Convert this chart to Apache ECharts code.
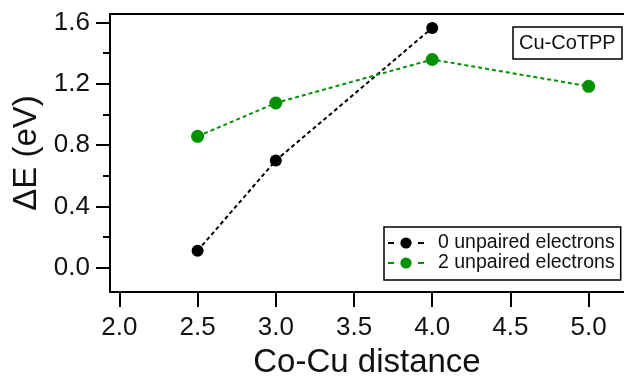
<!DOCTYPE html>
<html>
<head>
<meta charset="utf-8">
<script src="https://cdn.jsdelivr.net/npm/echarts@6/dist/echarts.min.js"></script>
<style>html,body{margin:0;padding:0;background:#fff}#c{width:624px;height:384px}</style>
</head>
<body>
<div id="c"></div>
<script>
const xValues0 = [2.5, 3.0, 4.0];
const yValues0 = [0.11, 0.70, 1.565];
const xValues2 = [2.5, 3.0, 4.0, 5.0];
const yValues2 = [0.857, 1.075, 1.359, 1.184];
const seriesNames = ['0 unpaired electrons', '2 unpaired electrons'];
const xTicks = [2.0, 2.5, 3.0, 3.5, 4.0, 4.5, 5.0];
const yTicks = [0.0, 0.4, 0.8, 1.2, 1.6];
const yMinorTicks = [0.2, 0.6, 1.0, 1.4];
const xRange = [1.94, 5.226];
const yRange = [-0.16, 1.656];
const annotation = 'Cu-CoTPP';
const xTitle = 'Co-Cu distance';
const yTitle = 'ΔE (eV)';

const FONT = '"Liberation Sans", Arial, Helvetica, sans-serif';
const GREEN = '#009000';
const chart = echarts.init(document.getElementById('c'), null, {renderer: 'canvas'});
const axLine = {show: true, onZero: false, lineStyle: {color: '#000', width: 2}};
chart.setOption({
  animation: false,
  backgroundColor: '#fff',
  title: {
    text: annotation, left: 513, top: 27,
    padding: [6, 7, 6, 6], borderColor: '#000', borderWidth: 1.5,
    textStyle: {fontFamily: FONT, fontSize: 20, fontWeight: 'normal', color: '#111', lineHeight: 20}
  },
  legend: {
    data: seriesNames, orient: 'vertical', left: 384, top: 227,
    padding: [6, 6, 7, 3], itemGap: 0, itemWidth: 36, itemHeight: 14,
    borderColor: '#000', borderWidth: 1.5,
    lineStyle: {type: [6, 9], width: 2},
    textStyle: {fontFamily: FONT, fontSize: 19.5, color: '#111', lineHeight: 20, padding: [0, 0, 0, 9]}
  },
  grid: {left: 110, right: 0, top: 14, bottom: 87},
  xAxis: [{
    type: 'value', min: xRange[0], max: xRange[1], position: 'bottom',
    name: xTitle, nameLocation: 'middle', nameGap: 51,
    nameTextStyle: {fontFamily: FONT, fontSize: 33, color: '#111', lineHeight: 33},
    axisLine: axLine, splitLine: {show: false},
    axisTick: {show: true, length: 15, customValues: xTicks, lineStyle: {color: '#000', width: 2}},
    axisLabel: {customValues: xTicks, margin: 23, fontFamily: FONT, fontSize: 26, color: '#111',
      formatter: v => Number(v).toFixed(1)}
  }, {
    type: 'value', min: xRange[0], max: xRange[1], position: 'top',
    axisLine: axLine, axisTick: {show: false}, axisLabel: {show: false}, splitLine: {show: false}
  }],
  yAxis: [{
    type: 'value', min: yRange[0], max: yRange[1], position: 'left',
    name: yTitle, nameLocation: 'middle', nameGap: 66,
    nameTextStyle: {fontFamily: FONT, fontSize: 33, color: '#111', lineHeight: 33},
    axisLine: axLine, splitLine: {show: false},
    axisTick: {show: true, length: 14, customValues: yTicks, lineStyle: {color: '#000', width: 2}},
    axisLabel: {customValues: yTicks, margin: 20, fontFamily: FONT, fontSize: 26, color: '#111',
      formatter: v => Number(v).toFixed(1)}
  }, {
    type: 'value', min: yRange[0], max: yRange[1], position: 'left',
    axisLine: {show: false, onZero: false}, splitLine: {show: false}, axisLabel: {show: false},
    axisTick: {show: true, length: 7, customValues: yMinorTicks, lineStyle: {color: '#000', width: 2}}
  }],
  series: [{
    name: seriesNames[0], type: 'line', xAxisIndex: 0, yAxisIndex: 0,
    data: xValues0.map((x, i) => [x, yValues0[i]]),
    symbol: 'circle', symbolSize: 12,
    itemStyle: {color: '#000'},
    lineStyle: {color: '#000', width: 2, type: [4, 3]}
  }, {
    name: seriesNames[1], type: 'line', xAxisIndex: 0, yAxisIndex: 0,
    data: xValues2.map((x, i) => [x, yValues2[i]]),
    symbol: 'circle', symbolSize: 13,
    itemStyle: {color: GREEN},
    lineStyle: {color: GREEN, width: 2, type: [4, 3]}
  }]
});
</script>
</body>
</html>
